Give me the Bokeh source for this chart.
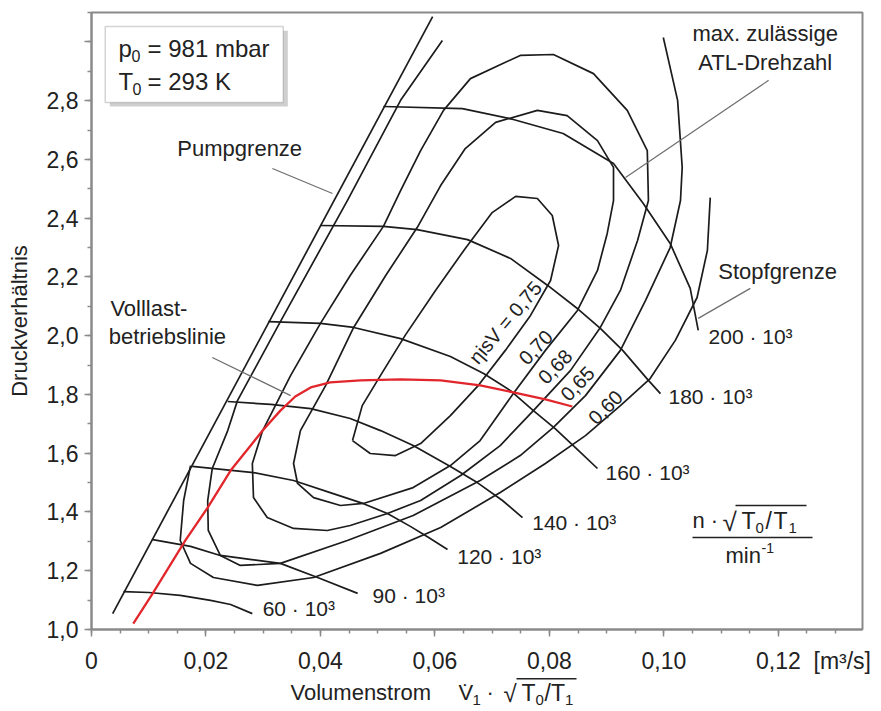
from bokeh.plotting import figure
from bokeh.layouts import column
from bokeh.models import (Range1d, SingleIntervalTicker, CustomJSTickFormatter,
                          Label, BoxAnnotation, Arrow)
from bokeh.embed import file_html
from bokeh.resources import INLINE

# ---------------- data ----------------
surge_x = [0.0037, 0.0596]
surge_y = [1.054, 3.086]

n60_x = [0.0056, 0.0100, 0.0155, 0.0208, 0.0243, 0.0281]
n60_y = [1.129, 1.126, 1.116, 1.099, 1.085, 1.054]
n90_x = [0.0107, 0.0173, 0.0225, 0.0280, 0.0330, 0.0395, 0.0465]
n90_y = [1.306, 1.283, 1.252, 1.238, 1.225, 1.177, 1.123]
n120_x = [0.0176, 0.0283, 0.0353, 0.0417, 0.0470, 0.0517, 0.0557, 0.0589, 0.0622]
n120_y = [1.555, 1.534, 1.507, 1.466, 1.432, 1.395, 1.351, 1.313, 1.272]
n140_x = [0.0238, 0.0313, 0.0383, 0.0452, 0.0505, 0.0562, 0.0627, 0.0674, 0.0718, 0.0753]
n140_y = [1.776, 1.766, 1.752, 1.718, 1.677, 1.626, 1.555, 1.500, 1.439, 1.381]
n160_x = [0.0309, 0.0400, 0.0458, 0.0540, 0.0627, 0.0685, 0.0732, 0.0772, 0.0810, 0.0851, 0.0884]
n160_y = [2.048, 2.042, 2.028, 1.990, 1.929, 1.871, 1.813, 1.745, 1.684, 1.609, 1.548]
n180_x = [0.0400, 0.0510, 0.0569, 0.0657, 0.0732, 0.0797, 0.0851, 0.0889, 0.0928, 0.0973, 0.0994]
n180_y = [2.375, 2.372, 2.361, 2.327, 2.263, 2.171, 2.089, 2.025, 1.950, 1.848, 1.803]
n200_x = [0.0510, 0.0648, 0.0737, 0.0824, 0.0912, 0.0964, 0.1011, 0.1046, 0.1060]
n200_y = [2.780, 2.773, 2.736, 2.688, 2.586, 2.450, 2.314, 2.161, 2.018]
speed_labels = ["60 · 10³", "90 · 10³", "120 · 10³", "140 · 10³",
                "160 · 10³", "180 · 10³", "200 · 10³"]

eta75_x = [0.0456, 0.0473, 0.0505, 0.0548, 0.0601, 0.0653, 0.0700, 0.0741, 0.0779, 0.0805,
           0.0816, 0.0802, 0.0767, 0.0723, 0.0676, 0.0627, 0.0575, 0.0531, 0.0487, 0.0456]
eta75_y = [1.643, 1.762, 1.865, 2.001, 2.154, 2.297, 2.419, 2.474, 2.467, 2.409,
           2.307, 2.188, 2.069, 1.950, 1.831, 1.728, 1.633, 1.592, 1.599, 1.643]
eta70_x = [0.0365, 0.0353, 0.0360, 0.0388, 0.0435, 0.0475, 0.0562, 0.0627, 0.0679, 0.0737,
           0.0793, 0.0849, 0.0884, 0.0901, 0.0912, 0.0912, 0.0884, 0.0831, 0.0779, 0.0706,
           0.0653, 0.0610, 0.0569, 0.0514, 0.0458, 0.0409, 0.0365]
eta70_y = [1.677, 1.565, 1.497, 1.449, 1.422, 1.429, 1.483, 1.558, 1.643, 1.803,
           1.950, 2.086, 2.222, 2.348, 2.460, 2.573, 2.664, 2.749, 2.767, 2.726,
           2.637, 2.511, 2.368, 2.205, 2.028, 1.830, 1.677]
eta68_x = [0.0299, 0.0348, 0.0400, 0.0452, 0.0510, 0.0540, 0.0575, 0.0615, 0.0662, 0.0749,
           0.0807, 0.0877, 0.0936, 0.0971, 0.0973, 0.0954, 0.0924, 0.0889, 0.0837, 0.0772,
           0.0714, 0.0645, 0.0575, 0.0517, 0.0452, 0.0412, 0.0353, 0.0307, 0.0283, 0.0281,
           0.0299]
eta68_y = [1.677, 1.865, 2.042, 2.205, 2.372, 2.494, 2.630, 2.767, 2.875, 2.954,
           2.957, 2.892, 2.767, 2.630, 2.460, 2.324, 2.154, 2.028, 1.882, 1.745,
           1.626, 1.524, 1.439, 1.395, 1.354, 1.337, 1.344, 1.381, 1.449, 1.565,
           1.677]
eta65_x = [0.0613, 0.0540, 0.0447, 0.0330, 0.0255, 0.0238, 0.0211, 0.0203, 0.0204, 0.0225,
           0.0260, 0.0330, 0.0447, 0.0562, 0.0679, 0.0749, 0.0807, 0.0863, 0.0924, 0.0968,
           0.1011, 0.1029, 0.1032, 0.1024, 0.0999]
eta65_y = [3.005, 2.801, 2.460, 2.048, 1.779, 1.677, 1.548, 1.439, 1.337, 1.252,
           1.218, 1.225, 1.303, 1.388, 1.507, 1.592, 1.688, 1.796, 1.950, 2.120,
           2.300, 2.460, 2.573, 2.801, 3.015]
eta60_x = [0.0173, 0.0161, 0.0155, 0.0173, 0.0213, 0.0290, 0.0388, 0.0505, 0.0610, 0.0714,
           0.0793, 0.0863, 0.0924, 0.0976, 0.1020, 0.1058, 0.1076, 0.1081]
eta60_y = [1.558, 1.439, 1.303, 1.225, 1.177, 1.150, 1.177, 1.259, 1.347, 1.466,
           1.565, 1.660, 1.762, 1.854, 1.984, 2.130, 2.290, 2.470]
eta_labels = ["ηisV = 0,75", "0,70", "0,68", "0,65", "0,60"]

full_x = [0.0073, 0.0107, 0.0164, 0.0203, 0.0243, 0.0299, 0.0330, 0.0356, 0.0383, 0.0417,
          0.0470, 0.0540, 0.0610, 0.0679, 0.0737, 0.0793, 0.0840]
full_y = [1.020, 1.123, 1.303, 1.415, 1.541, 1.677, 1.745, 1.793, 1.824, 1.841,
          1.848, 1.851, 1.848, 1.831, 1.807, 1.783, 1.759]

# ---------------- figure ----------------
FONT = "Liberation Sans"
INK = "#1c1c1c"
GREY = "#8a8a8a"
TXT = "#222222"
XMAX, YMIN, YMAX = 0.1347, 1.0, 3.1
FL, FR, FT, FB = 91, 862, 12, 629      # frame edges in canvas pixels

p = figure(width=881, height=676, x_range=Range1d(0, XMAX), y_range=Range1d(YMIN, YMAX),
           output_backend="svg", toolbar_location=None,
           min_border_left=FL, min_border_right=881 - FR, min_border_top=FT,
           min_border_bottom=676 - FB)
p.grid.visible = False
p.outline_line_color = GREY
p.outline_line_width = 2

p.xaxis.ticker = SingleIntervalTicker(interval=0.02, num_minor_ticks=4)
p.yaxis.ticker = SingleIntervalTicker(interval=0.2, num_minor_ticks=2)
p.xaxis.formatter = CustomJSTickFormatter(code="""
    if (Math.abs(tick) < 1e-9) return '0';
    const s = tick.toFixed(2).replace('.', ',');
    if (Math.abs(tick - 0.12) < 1e-9)
        return '\\u00a0'.repeat(11) + s + '\\u00a0\\u00a0[m³/s]';
    return s;
""")
p.yaxis.formatter = CustomJSTickFormatter(
    code="return tick > 2.9 ? '' : tick.toFixed(1).replace('.', ',');")
for ax in p.axis:
    ax.axis_line_color = GREY
    ax.axis_line_width = 2
    ax.major_tick_line_color = GREY
    ax.major_tick_line_width = 1.5
    ax.minor_tick_line_color = GREY
    ax.minor_tick_line_width = 1.5
    ax.major_tick_in = 0
    ax.major_tick_out = 7
    ax.minor_tick_in = 0
    ax.minor_tick_out = 4
    ax.major_label_text_font = FONT
    ax.major_label_text_font_size = "23px"
    ax.major_label_text_color = TXT
p.xaxis.major_label_standoff = 11
p.yaxis.major_label_standoff = 6
p.yaxis.axis_label = "Druckverhältnis"
p.yaxis.axis_label_text_font = FONT
p.yaxis.axis_label_text_font_size = "22px"
p.yaxis.axis_label_text_font_style = "normal"
p.yaxis.axis_label_text_color = TXT
p.yaxis.axis_label_standoff = 12

# ---------------- curves ----------------
lw = 1.7
p.line(surge_x, surge_y, line_color=INK, line_width=lw)
for xs, ys in [(n60_x, n60_y), (n90_x, n90_y), (n120_x, n120_y), (n140_x, n140_y),
               (n160_x, n160_y), (n180_x, n180_y), (n200_x, n200_y)]:
    p.line(xs, ys, line_color=INK, line_width=lw, line_join="round")
for xs, ys in [(eta75_x, eta75_y), (eta70_x, eta70_y), (eta68_x, eta68_y),
               (eta65_x, eta65_y), (eta60_x, eta60_y)]:
    p.line(xs, ys, line_color=INK, line_width=lw, line_join="round")
p.line(full_x, full_y, line_color="#e1262c", line_width=2.3, line_join="round")

# ---------------- labels ----------------
def lab(x, y, t, size="22px", align="left", angle=0.0, font=FONT, color=TXT, fig=p):
    fig.add_layout(Label(x=x, y=y, text=t, text_font=font, text_font_size=size,
                         text_align=align, text_baseline="middle", angle=angle,
                         text_color=color))

def px2data(px, py):
    return ((px - FL) / (FR - FL) * XMAX,
            YMIN + (FB - py) / (FB - FT) * (YMAX - YMIN))

def labp(px, py, t, **kw):
    # place a label by canvas pixel position inside the frame
    x, y = px2data(px, py)
    lab(x, y, t, **kw)

def rulep(px0, px1, py, thick=1.5):
    # thin typographic rule (fraction bar / radical overline) inside the frame
    x0, y0 = px2data(px0, py - thick / 2)
    x1, y1 = px2data(px1, py + thick / 2)
    p.add_layout(BoxAnnotation(left=x0, right=x1, top=y0, bottom=y1,
                               fill_color=TXT, fill_alpha=1, line_color=None))

speed_pos = [(0.0299, 1.071), (0.0491, 1.116), (0.0639, 1.248), (0.0770, 1.364),
             (0.0898, 1.534), (0.1008, 1.793), (0.1078, 1.997)]
for (x, y), t in zip(speed_pos, speed_labels):
    lab(x, y, t, size="21px")

eta_pos = [(0.0723, 2.045, 0.87), (0.0776, 1.960, 0.80), (0.0810, 1.895, 0.80),
           (0.0849, 1.837, 0.80), (0.0898, 1.756, 0.78)]
for (x, y, a), t in zip(eta_pos, eta_labels):
    lab(x, y, t, size="20px", align="center", angle=a)

lab(0.0150, 2.637, "Pumpgrenze")
lab(0.0033, 2.092, "Volllast-")
lab(0.0030, 1.996, "betriebslinie")
lab(0.1177, 3.028, "max. zulässige", align="center")
lab(0.1177, 2.930, "ATL-Drehzahl", align="center")
lab(0.1095, 2.219, "Stopfgrenze")

for x0, y0, x1, y1 in [(0.0316, 2.569, 0.0421, 2.484), (0.0211, 1.926, 0.0348, 1.796),
                       (0.1183, 2.869, 0.0933, 2.538), (0.1151, 2.161, 0.1060, 2.059)]:
    p.add_layout(Arrow(end=None, x_start=x0, y_start=y0, x_end=x1, y_end=y1,
                       line_color="#6e6e6e", line_width=1.2))

# legend box with shadow
p.add_layout(BoxAnnotation(left=0.0032, right=0.0343, top=3.038, bottom=2.780,
                           fill_color="#cfcfcf", fill_alpha=1, line_color=None))
p.add_layout(BoxAnnotation(left=0.0024, right=0.0335, top=3.052, bottom=2.794,
                           fill_color="white", fill_alpha=1, line_color="#707070",
                           line_width=1.5))
labp(118, 48, "p", size="24px")
labp(131, 55, "0", size="16px")
labp(147, 48, "= 981 mbar", size="24px")
labp(118, 81, "T", size="24px")
labp(132, 88, "0", size="16px")
labp(147, 81, "= 293 K", size="24px")

# speed unit  n·sqrt(T0/T1) / min^-1
labp(692, 520, "n ·", size="22px")
labp(722, 521, "√", size="26px")
labp(741, 520, "T", size="23px")
labp(755, 527, "0", size="15px")
labp(765, 520, "/", size="23px")
labp(773, 520, "T", size="23px")
labp(788, 527, "1", size="15px")
rulep(735, 806, 505)
rulep(692, 812, 537)
labp(725, 555, "min", size="22px")
labp(761, 547, "-1", size="14px")

# ---------------- x-axis title strip below the main figure ----------------
# its frame is aligned with the main frame, so x is given in canvas pixels FL..FR
p2 = figure(width=881, height=35, x_range=Range1d(FL, FR), y_range=Range1d(35, 0),
            output_backend="svg", toolbar_location=None, x_axis_type=None, y_axis_type=None,
            min_border=0, min_border_left=0, min_border_right=0, min_border_top=0,
            min_border_bottom=0)
p2.grid.visible = False
p2.outline_line_color = None
for x, y, t, s in [(290, 16, "Volumenstrom", "22px"), (458, 16, "V", "22px"),
                   (472, 23, "1", "15px"), (486, 16, "·", "22px"), (503, 17, "√", "24px"),
                   (521, 16, "T", "23px"), (535, 23, "0", "15px"), (544, 16, "/", "23px"),
                   (550.5, 16, "T", "23px"), (564.5, 23, "1", "15px")]:
    lab(x, y, t, size=s, fig=p2)
lab(465.5, 16, "˙", size="22px", align="center", fig=p2)
p2.add_layout(BoxAnnotation(left=516, right=576, top=1.6, bottom=3.1,
                            fill_color=TXT, fill_alpha=1, line_color=None))

open("out.html", "w").write(file_html(column(p, p2), INLINE))
